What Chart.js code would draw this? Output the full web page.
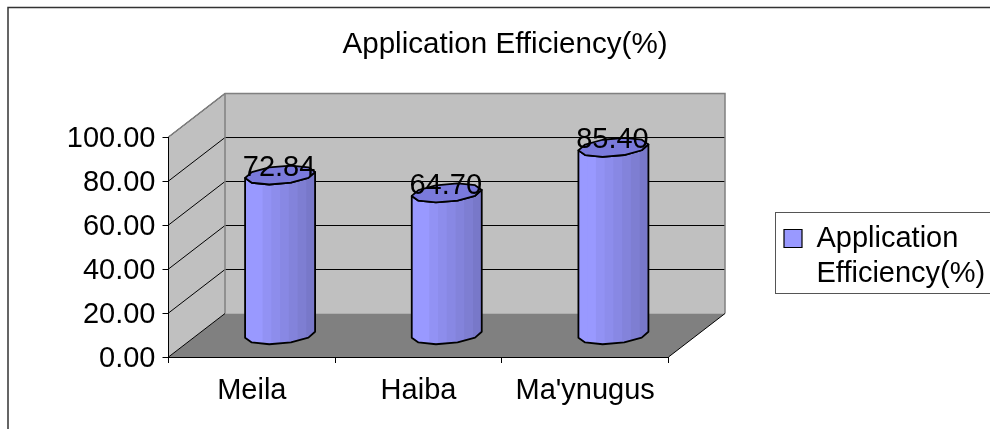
<!DOCTYPE html>
<html>
<head>
<meta charset="utf-8">
<style>
  html, body { margin: 0; padding: 0; background: #fff; }
  #wrap { width: 990px; height: 429px; }
</style>
<script src="https://cdn.jsdelivr.net/npm/chart.js@4/dist/chart.umd.js"></script>
</head>
<body>
<div id="wrap"><canvas id="chart" width="990" height="429"></canvas></div>
<script>
// chart values
const categories = ["Meila", "Haiba", "Ma'ynugus"];
const efficiency = [72.84, 64.70, 85.40];
const seriesName = "Application Efficiency(%)";
const legendLines = ["Application", "Efficiency(%)"];

const FONT = '"Liberation Sans", Arial, sans-serif';
const FONT_SIZE = 29;

// fake 3d depth, back wall sits this far from the front plane
const DEPTH_X = 56.5;
const DEPTH_Y = -43.5;

const WALL = "#C0C0C0";
const FLOOR = "#808080";
const EDGE = "#808080";
const STRIPS = ["#9999FF", "#9999FF", "#9292F4", "#8D8DEC", "#8888E4", "#8383DB", "#7E7ED2", "#7878C9"];

// cylinder standing half way into the depth
class CylinderBar extends Chart.BarElement {
  static id = "cylinderBar";

  draw(ctx) {
    const { x, y, base, width } = this.getProps(["x", "y", "base", "width"]);
    const cx = x + DEPTH_X / 2;
    const topY = y + DEPTH_Y / 2;
    const baseY = base + DEPTH_Y / 2;
    const r = width / 2;
    const ry = 9;
    const tilt = 3;
    const steps = 5;

    // rim points, angular like the original
    const rim = (cy, from, to, n) => {
      const pts = [];
      for (let i = 0; i <= n; i++) {
        const t = from + (to - from) * i / n;
        pts.push([cx + r * Math.cos(t), cy + ry * Math.sin(t) - tilt * Math.cos(t)]);
      }
      return pts;
    };
    const front = rim(baseY, 0, Math.PI, steps);
    const topFront = rim(topY, Math.PI, 0, steps);

    ctx.save();
    ctx.beginPath();
    front.forEach((p, i) => i ? ctx.lineTo(p[0], p[1]) : ctx.moveTo(p[0], p[1]));
    topFront.forEach(p => ctx.lineTo(p[0], p[1]));
    ctx.closePath();

    ctx.save();
    ctx.clip();
    const sw = width / STRIPS.length;
    STRIPS.forEach((c, i) => {
      ctx.fillStyle = c;
      ctx.fillRect(cx - r + i * sw, topY - 20, sw + 1, baseY - topY + 40);
    });
    ctx.restore();

    ctx.lineWidth = 1.8;
    ctx.strokeStyle = "#000";
    ctx.lineJoin = "round";
    ctx.stroke();

    // top cap
    ctx.beginPath();
    rim(topY, 0, Math.PI * 2, steps * 2).forEach((p, i) => i ? ctx.lineTo(p[0], p[1]) : ctx.moveTo(p[0], p[1]));
    ctx.closePath();
    ctx.fillStyle = "#7A7ADB";
    ctx.fill();
    ctx.stroke();
    ctx.restore();
  }
}

class CylinderController extends Chart.BarController {
  static id = "cylinder";
  static defaults = { ...Chart.BarController.defaults, dataElementType: "cylinderBar" };
}

Chart.register(CylinderBar, CylinderController);

// walls, floor and gridlines behind the bars
const walls = {
  id: "walls",
  beforeDraw(chart) {
    const { ctx, chartArea: a, scales } = chart;
    const dx = DEPTH_X, dy = DEPTH_Y;

    ctx.save();
    // outer frame, the picture is cropped on right and bottom
    ctx.strokeStyle = "#333";
    ctx.lineWidth = 1.5;
    ctx.beginPath();
    ctx.moveTo(8, 429);
    ctx.lineTo(8, 7.5);
    ctx.lineTo(990, 7.5);
    ctx.stroke();

    // side wall
    ctx.fillStyle = WALL;
    ctx.beginPath();
    ctx.moveTo(a.left, a.bottom);
    ctx.lineTo(a.left, a.top);
    ctx.lineTo(a.left + dx, a.top + dy);
    ctx.lineTo(a.left + dx, a.bottom + dy);
    ctx.closePath();
    ctx.fill();

    // back wall
    ctx.fillRect(a.left + dx, a.top + dy, a.right - a.left, a.bottom - a.top);

    // floor
    ctx.fillStyle = FLOOR;
    ctx.beginPath();
    ctx.moveTo(a.left, a.bottom);
    ctx.lineTo(a.right, a.bottom);
    ctx.lineTo(a.right + dx, a.bottom + dy);
    ctx.lineTo(a.left + dx, a.bottom + dy);
    ctx.closePath();
    ctx.fill();

    // gridlines, skipping the floor line
    ctx.strokeStyle = "#000";
    ctx.lineWidth = 1;
    scales.y.ticks.forEach(t => {
      if (t.value === 0) return;
      const y = scales.y.getPixelForValue(t.value);
      ctx.beginPath();
      ctx.moveTo(a.left, y);
      ctx.lineTo(a.left + dx, y + dy);
      ctx.lineTo(a.right + dx, y + dy);
      ctx.stroke();
    });

    // wall edges
    ctx.strokeStyle = EDGE;
    ctx.lineWidth = 1.5;
    ctx.beginPath();
    ctx.moveTo(a.left, a.top);
    ctx.lineTo(a.left + dx, a.top + dy);
    ctx.lineTo(a.right + dx, a.top + dy);
    ctx.lineTo(a.right + dx, a.bottom + dy);
    ctx.moveTo(a.left + dx, a.top + dy);
    ctx.lineTo(a.left + dx, a.bottom + dy);
    ctx.stroke();

    // front edge of the floor
    ctx.strokeStyle = "#000";
    ctx.lineWidth = 1;
    ctx.beginPath();
    ctx.moveTo(a.left, a.bottom);
    ctx.lineTo(a.left + dx, a.bottom + dy);
    ctx.moveTo(a.right, a.bottom);
    ctx.lineTo(a.right + dx, a.bottom + dy);
    ctx.stroke();
    ctx.restore();
  },
  afterLayout(chart) {
    // title is centred on the whole frame, legend sits right of the plot
    chart.titleBlock.left = 20;
    chart.titleBlock.right = 990;
    const w = chart.legend.right - chart.legend.left;
    const h = chart.legend.bottom - chart.legend.top;
    chart.legend.left = 775;
    chart.legend.right = 775 + w;
    chart.legend.top = 215;
    chart.legend.bottom = 215 + h;
  },
  afterDraw(chart) {
    const { ctx } = chart;
    ctx.save();

    // legend frame
    ctx.strokeStyle = "#555";
    ctx.lineWidth = 1;
    ctx.strokeRect(775.5, 212.5, 230, 81);

    // value labels
    ctx.fillStyle = "#000";
    ctx.font = FONT_SIZE + "px " + FONT;
    ctx.textAlign = "center";
    ctx.textBaseline = "middle";
    chart.getDatasetMeta(0).data.forEach((bar, i) => {
      ctx.fillText(efficiency[i].toFixed(2), bar.x + DEPTH_X / 2 - 1, bar.y + DEPTH_Y / 2 - 7);
    });
    ctx.restore();
  }
};

new Chart(document.getElementById("chart"), {
  type: "cylinder",
  data: {
    labels: categories,
    datasets: [{
      label: seriesName,
      data: efficiency,
      backgroundColor: "#9999FF",
      borderColor: "#000",
      borderWidth: 1,
      barPercentage: 0.42,
      categoryPercentage: 1
    }]
  },
  plugins: [walls],
  options: {
    responsive: false,
    animation: false,
    layout: { padding: { left: 0, right: 321.5, top: 0, bottom: 0 } },
    scales: {
      x: {
        afterFit: s => { s.height = 72; },
        border: { color: "#000", width: 1 },
        grid: { drawOnChartArea: false, drawTicks: true, tickLength: 6, color: "#000", offset: true },
        ticks: { color: "#000", font: { family: FONT, size: FONT_SIZE }, padding: 11, maxRotation: 0, autoSkip: false }
      },
      y: {
        min: 0,
        max: 100,
        afterFit: s => { s.width = 168.5; },
        border: { color: "#000", width: 1 },
        grid: { drawOnChartArea: false, drawTicks: true, tickLength: 6, color: "#000" },
        ticks: {
          stepSize: 20,
          color: "#000",
          font: { family: FONT, size: FONT_SIZE },
          padding: 7,
          labelOffset: 2,
          callback: v => v.toFixed(2)
        }
      }
    },
    plugins: {
      tooltip: { enabled: false },
      title: {
        display: true,
        text: seriesName,
        color: "#000",
        font: { family: FONT, size: 29.6, weight: "normal" },
        padding: { top: 27.3, bottom: 74.2 }
      },
      legend: {
        display: true,
        position: "chartArea",
        align: "start",
        labels: {
          color: "#000",
          font: { family: FONT, size: 29, lineHeight: 1.24 },
          boxWidth: 18,
          boxHeight: 18,
          padding: 9,
          generateLabels: chart => [{
            text: legendLines,
            fillStyle: chart.data.datasets[0].backgroundColor,
            strokeStyle: "#000",
            lineWidth: 1.2,
            datasetIndex: 0
          }]
        }
      }
    }
  }
});
</script>
</body>
</html>
